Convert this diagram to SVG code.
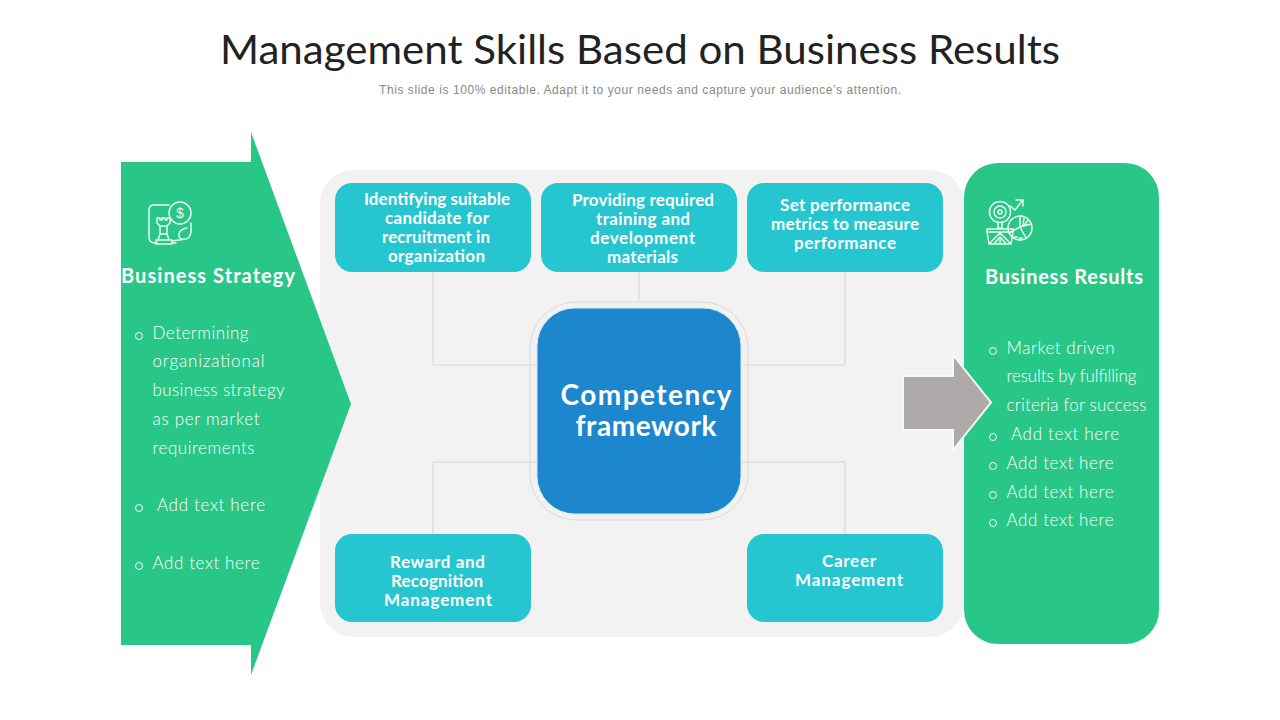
<svg xmlns="http://www.w3.org/2000/svg" width="1280" height="720" viewBox="0 0 1280 720">
<style>
text{font-family:"Lato","Liberation Sans",sans-serif}
.tt{font-size:40px;fill:#222;text-anchor:middle}
.sub{font-family:"Liberation Sans",sans-serif;font-size:12px;fill:#888;text-anchor:middle}
.card{fill:#26c6d0}
.cl{font-size:17px;font-weight:700;fill:#fff;text-anchor:middle}
.hd{font-size:20px;font-weight:700;fill:#fff}
.bd{font-size:17px;font-weight:300;fill:#fff}
.bul{fill:none;stroke:#f2fdf8;stroke-width:1}
.con{fill:none;stroke:#cfcfcf;stroke-width:.8}
.ic{fill:none;stroke:#eafaf3;stroke-width:1.5;stroke-linejoin:round;stroke-linecap:round}
</style>
<rect width="1280" height="720" fill="#fff"/>
<text class="tt" x="640" y="64" textLength="840" lengthAdjust="spacingAndGlyphs">Management Skills Based on Business Results</text>
<text class="sub" x="640" y="94" textLength="522">This slide is 100% editable. Adapt it to your needs and capture your audience’s attention.</text>

<g id="panel"><rect x="320" y="170" width="644" height="467" rx="34" fill="#f2f2f2"/></g>

<g id="connectors">
<path class="con" d="M433 272V365H537M639 272V302M845 272V365H743M433 534V462H537M845 534V462H741"/>
</g>

<g id="business-strategy">
<path d="M121 162H251V132L351 404L251 675V645H121Z" fill="#29c787"/>
<g class="ic">
<path d="M169 205H154Q149 205 149 210V237Q149 243 155 243H157M172 243H176"/>
<circle cx="180" cy="213" r="11"/>
<path d="M191 223V232Q190 238 186 239L172 241M186 239Q178 240 179 234Q180 229 187 228"/>
<path d="M156 244H172V240H169L167 234V226L170 223V218H167V220H165V218H162V220H160V218H157V223L160 226V234L158 240H156ZM160 226H167M160 234H167M158 240H169"/>
</g>
<text x="180" y="218" font-size="14" fill="#eafaf3" text-anchor="middle" style="font-family:'Liberation Sans',sans-serif">$</text>
<text class="hd" x="121" y="283" textLength="174">Business Strategy</text>
<circle class="bul" cx="139" cy="336" r="3.500"/>
<text class="bd" x="152.500" y="339" textLength="96">Determining</text>
<text class="bd" x="152.500" y="367" textLength="112">organizational</text>
<text class="bd" x="152.500" y="396" textLength="132">business strategy</text>
<text class="bd" x="152.500" y="425" textLength="107">as per market</text>
<text class="bd" x="152.500" y="454" textLength="102">requirements</text>
<circle class="bul" cx="139" cy="508" r="3.500"/>
<text class="bd" x="157" y="511" textLength="108">Add text here</text>
<circle class="bul" cx="139" cy="566" r="3.500"/>
<text class="bd" x="152.500" y="569" textLength="107">Add text here</text>
</g>

<g id="business-results">
<rect x="964" y="163" width="195" height="481" rx="34" fill="#29c787"/>
<g class="ic">
<circle cx="1000" cy="212" r="10.500"/><circle cx="1000" cy="212" r="6"/><circle cx="1000" cy="212" r="2"/>
<path d="M1010 206L1015 210L1022 201M1016 200H1023V206"/>
<path d="M998 222.500V228H1002V222.500M987 229H1013V232L1011 244H989L987 232ZM987 232H1013M989 244L1000 233L1011 244M994 244L1000 237L1006 244M1000 240V244"/>
<circle cx="1020" cy="228" r="12"/>
<path d="M1020 216V227L1031 224M1009 233L1020 227L1026 238M1024 218L1023 226M1028 220L1024 226M1014 237H1017M1019 238H1022"/>
</g>
<text class="hd" x="985" y="284" textLength="158">Business Results</text>
<circle class="bul" cx="993" cy="351" r="3.500"/>
<text class="bd" x="1006.500" y="354" textLength="108">Market driven</text>
<text class="bd" x="1006.500" y="382" textLength="130">results by fulfilling</text>
<text class="bd" x="1006.500" y="411" textLength="140">criteria for success</text>
<circle class="bul" cx="993" cy="437" r="3.500"/>
<text class="bd" x="1011" y="440" textLength="108">Add text here</text>
<circle class="bul" cx="993" cy="466" r="3.500"/>
<text class="bd" x="1006.500" y="469" textLength="107">Add text here</text>
<circle class="bul" cx="993" cy="495" r="3.500"/>
<text class="bd" x="1006.500" y="498" textLength="107">Add text here</text>
<circle class="bul" cx="993" cy="523" r="3.500"/>
<text class="bd" x="1006.500" y="526" textLength="107">Add text here</text>
</g>

<g id="results-arrow">
<path d="M903 376H953V355L991 402.500L953 450V430H903Z" fill="#aeaaaa" stroke="#f4fbf8" stroke-width="2"/>
</g>

<g id="card-identifying">
<rect class="card" x="335" y="183" width="196" height="89" rx="17"/>
<text class="cl" x="437" y="205" textLength="146">Identifying suitable</text>
<text class="cl" x="437" y="224" textLength="104">candidate for</text>
<text class="cl" x="436" y="243" textLength="108">recruitment in</text>
<text class="cl" x="436.500" y="262" textLength="97">organization</text>
</g>
<g id="card-training">
<rect class="card" x="541" y="183" width="196" height="89" rx="17"/>
<text class="cl" x="643" y="206" textLength="142">Providing required</text>
<text class="cl" x="643" y="225" textLength="94">training and</text>
<text class="cl" x="642.500" y="244" textLength="105">development</text>
<text class="cl" x="642.500" y="263" textLength="71">materials</text>
</g>
<g id="card-metrics">
<rect class="card" x="747" y="183" width="196" height="89" rx="17"/>
<text class="cl" x="845" y="211" textLength="130">Set performance</text>
<text class="cl" x="845" y="230" textLength="148">metrics to measure</text>
<text class="cl" x="845" y="249" textLength="102">performance</text>
</g>
<g id="card-reward">
<rect class="card" x="335" y="534" width="196" height="88" rx="17"/>
<text class="cl" x="437.500" y="568" textLength="95">Reward and</text>
<text class="cl" x="437" y="587" textLength="92">Recognition</text>
<text class="cl" x="438" y="606" textLength="108">Management</text>
</g>
<g id="card-career">
<rect class="card" x="747" y="534" width="196" height="88" rx="17"/>
<text class="cl" x="849" y="567" textLength="54">Career</text>
<text class="cl" x="849" y="586" textLength="108">Management</text>
</g>

<g id="competency-framework">
<rect x="530" y="302" width="218" height="218" rx="46" fill="none" stroke="#d4d4d4" stroke-width=".8"/>
<rect x="537" y="308" width="204" height="206" rx="38" fill="#1c87cc" stroke="#d4e6f2" stroke-width="1"/>
<text x="646" y="405" font-size="28" font-weight="700" fill="#fff" text-anchor="middle" textLength="171">Competency</text>
<text x="646" y="436" font-size="28" font-weight="700" fill="#fff" text-anchor="middle" textLength="141">framework</text>
</g>
</svg>
